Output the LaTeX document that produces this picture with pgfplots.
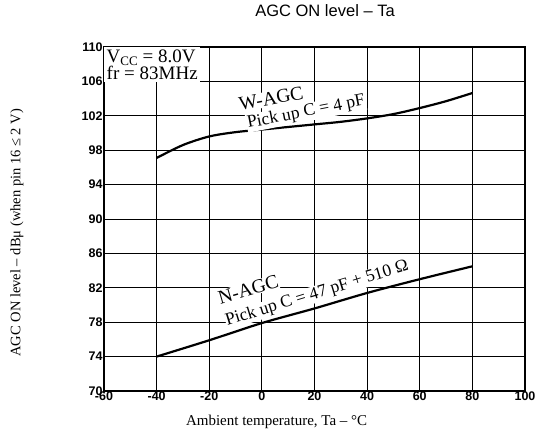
\documentclass[border=0pt]{standalone}
\usepackage{fontspec}
\setmainfont{Liberation Serif}
\setsansfont{Liberation Sans}
\usepackage{pgfplots}
\pgfplotsset{compat=1.18}
\begin{document}
\begin{tikzpicture}[x=1pt,y=1pt]
\useasboundingbox (-104,-43) rectangle (435,391);
\begin{axis}[
  at={(0,0)}, anchor=south west,
  scale only axis, width=421pt, height=344pt,
  xmin=-60, xmax=100, ymin=70, ymax=110,
  xtick={-60,-40,...,100}, ytick={70,74,...,110},
  grid=major, major grid style={black, line width=0.8pt},
  axis line style={black, line width=1.2pt},
  tick style={draw=none},
  /pgf/number format/assume math mode=true,
  ticklabel style={font=\sffamily\bfseries\fontsize{12.5}{13}\selectfont},
  xticklabel style={yshift=3pt},
  yticklabel style={xshift=2pt},
  xlabel={Ambient temperature, Ta -- °C},
  xlabel style={font=\fontsize{15}{17}\selectfont, at={(axis description cs:0.41,-0.09)}, anchor=center},
  ylabel={AGC ON level -- dBμ (when pin 16 ≤ 2 V)},
  ylabel style={font=\fontsize{14.5}{16}\selectfont, at={(axis description cs:-0.207,0.46)}, anchor=center, rotate=0},
  clip=false,
]
\addplot[black, line width=2.2pt, smooth] coordinates {
(-40,97.1) (-30,98.6) (-20,99.6) (-10,100.1) (0,100.4) (10,100.7) (20,101.0) (30,101.3) (40,101.7) (50,102.2) (60,102.9) (70,103.7) (80,104.65)};
\addplot[black, line width=2.2pt, smooth] coordinates {
(-40,74.0) (-20,75.9) (0,77.9) (20,79.6) (40,81.4) (60,83.0) (80,84.5)};
\node[font=\sffamily\fontsize{16.5}{18}\selectfont, anchor=center] at (axis description cs:0.525,1.105) {AGC ON level -- Ta};
\node[anchor=north west, fill=white, inner sep=2.5pt, align=left, font=\fontsize{19}{20}\selectfont]
  at (axis cs:-60,110) {V\raisebox{-0.4ex}{\fontsize{13}{14}\selectfont CC}$\;$=$\;$8.0V\\[-3pt] fr$\;$=$\;$83MHz};
\node[fill=white, inner sep=1pt, rotate=11, font=\fontsize{19.5}{20}\selectfont] at (axis cs:3.5,104.0) {W-AGC};
\node[fill=white, inner sep=1pt, rotate=11, font=\fontsize{17.5}{18}\selectfont] at (axis cs:16.8,102.4) {Pick up C = 4 pF};
\node[fill=white, inner sep=0.5pt, rotate=16, font=\fontsize{19.5}{20}\selectfont] at (axis cs:-5.2,81.8) {N-AGC};
\node[fill=white, inner sep=0.5pt, rotate=17, font=\fontsize{17.5}{18}\selectfont] at (axis cs:21,81.3) {Pick up C = 47 pF + 510 Ω};
\end{axis}
\end{tikzpicture}
\end{document}
